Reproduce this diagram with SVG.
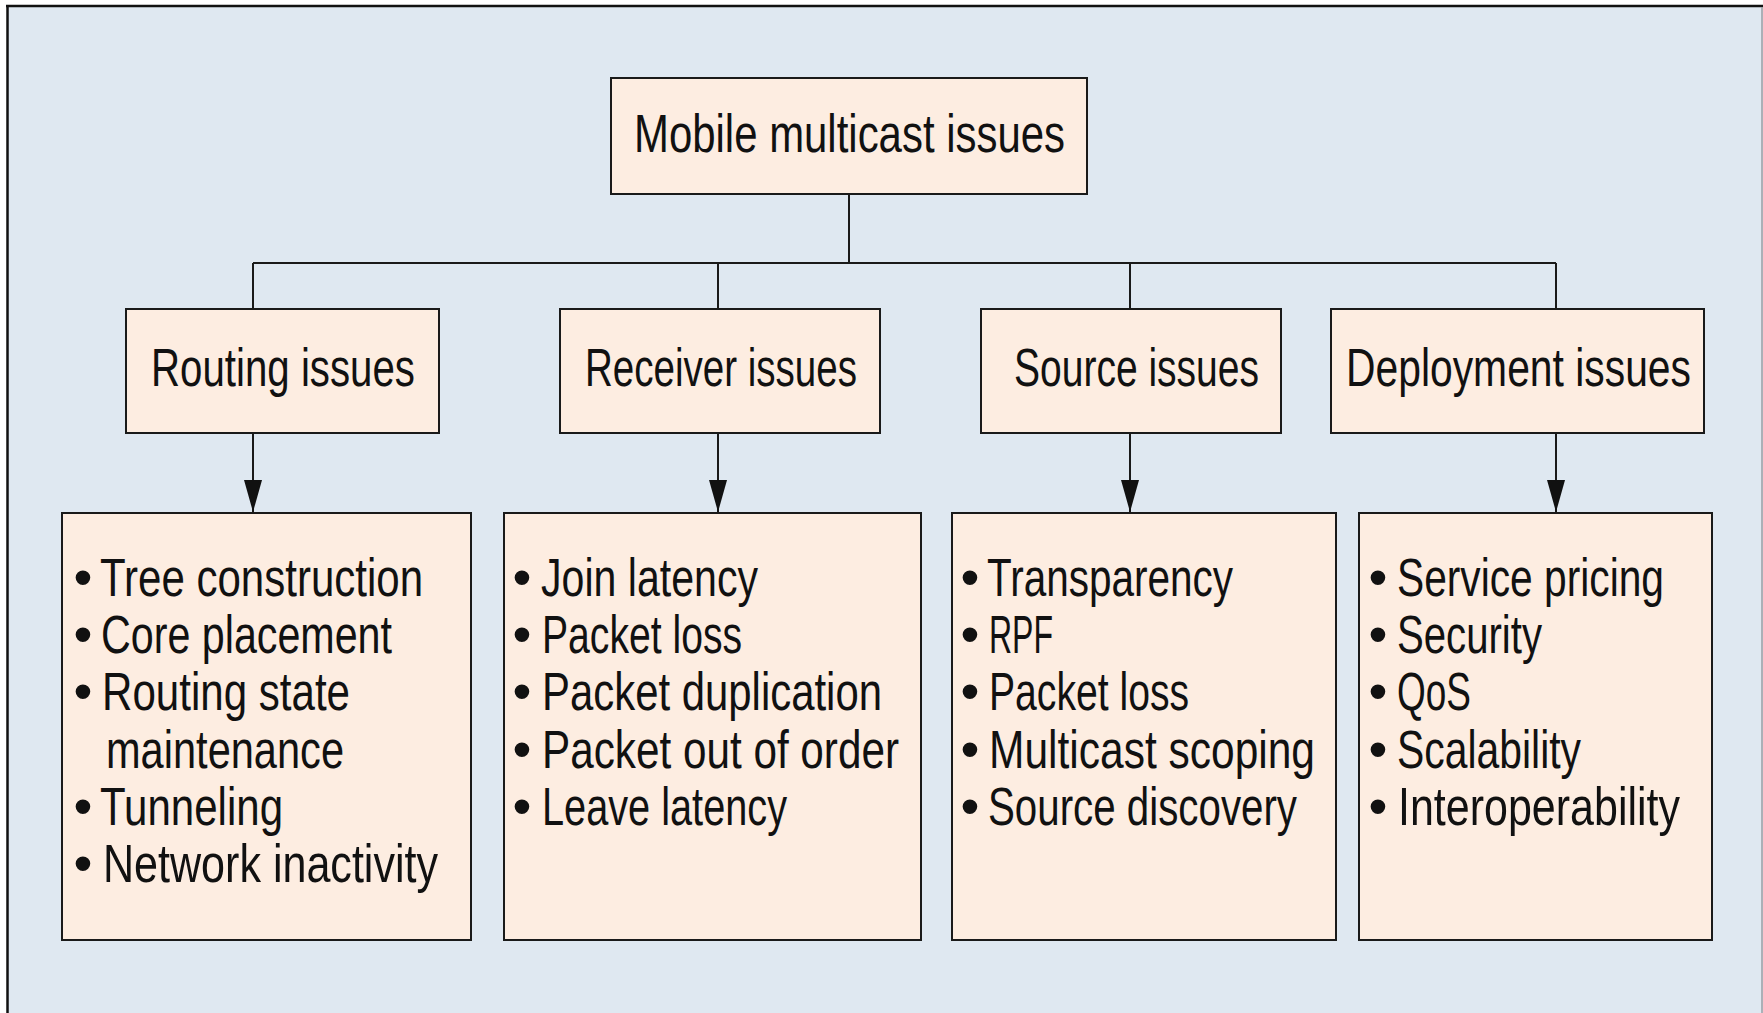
<svg xmlns="http://www.w3.org/2000/svg" width="1763" height="1013" viewBox="0 0 1763 1013">
<style>
.box{fill:#fdede1;stroke:#1a1a1a;stroke-width:2}
.t{font-family:"Liberation Sans",Arial,sans-serif;font-size:54px;fill:#111}
.b{font-family:"Liberation Sans",Arial,sans-serif;font-size:54px;fill:#111;text-anchor:middle}
.c{fill:none;stroke:#1a1a1a;stroke-width:2}
</style>
<defs>
<marker id="ah" markerUnits="userSpaceOnUse" markerWidth="32" markerHeight="18" refX="32" refY="9" orient="auto">
<path d="M0,0 L32,9 L0,18 z" fill="#111"/>
</marker>
</defs>
<rect x="0" y="0" width="1763" height="1013" fill="#ffffff"/>
<rect x="7" y="6" width="1756" height="1007" fill="#dfe8f1"/>
<line x1="6" y1="6" x2="1763" y2="6" stroke="#111" stroke-width="2.5"/>
<line x1="7.5" y1="5" x2="7.5" y2="1013" stroke="#111" stroke-width="2.5"/>
<line x1="1762" y1="7" x2="1762" y2="1013" stroke="#9a9ea3" stroke-width="1.5"/>

<g id="connectors">
<path class="c" d="M849,194 V263 M253,263 H1556 M253,263 V309 M718,263 V309 M1130,263 V309 M1556,263 V309"/>
<line class="c" x1="253" y1="433" x2="253" y2="512" marker-end="url(#ah)"/>
<line class="c" x1="718" y1="433" x2="718" y2="512" marker-end="url(#ah)"/>
<line class="c" x1="1130" y1="433" x2="1130" y2="512" marker-end="url(#ah)"/>
<line class="c" x1="1556" y1="433" x2="1556" y2="512" marker-end="url(#ah)"/>
</g>

<g id="root">
<rect class="box" x="611" y="78" width="476" height="116"/>
<text class="t" x="634" y="152" textLength="431" lengthAdjust="spacingAndGlyphs">Mobile multicast issues</text>
</g>

<g id="routing">
<rect class="box" x="126" y="309" width="313" height="124"/>
<text class="t" x="151" y="386" textLength="264" lengthAdjust="spacingAndGlyphs">Routing issues</text>
</g>
<g id="receiver">
<rect class="box" x="560" y="309" width="320" height="124"/>
<text class="t" x="585" y="386" textLength="272" lengthAdjust="spacingAndGlyphs">Receiver issues</text>
</g>
<g id="source">
<rect class="box" x="981" y="309" width="300" height="124"/>
<text class="t" x="1014" y="386" textLength="245" lengthAdjust="spacingAndGlyphs">Source issues</text>
</g>
<g id="deployment">
<rect class="box" x="1331" y="309" width="373" height="124"/>
<text class="t" x="1346" y="386" textLength="345" lengthAdjust="spacingAndGlyphs">Deployment issues</text>
</g>

<g id="routing-list">
<rect class="box" x="62" y="513" width="409" height="427"/>
<text class="b" x="83" y="596">•</text>
<text class="b" x="83" y="653">•</text>
<text class="b" x="83" y="710">•</text>
<text class="b" x="83" y="825">•</text>
<text class="b" x="83" y="882">•</text>
<text class="t" x="100" y="596" textLength="323" lengthAdjust="spacingAndGlyphs">Tree construction</text>
<text class="t" x="101" y="653" textLength="291" lengthAdjust="spacingAndGlyphs">Core placement</text>
<text class="t" x="102" y="710" textLength="248" lengthAdjust="spacingAndGlyphs">Routing state</text>
<text class="t" x="106" y="768" textLength="238" lengthAdjust="spacingAndGlyphs">maintenance</text>
<text class="t" x="100" y="825" textLength="183" lengthAdjust="spacingAndGlyphs">Tunneling</text>
<text class="t" x="103" y="882" textLength="335" lengthAdjust="spacingAndGlyphs">Network inactivity</text>
</g>

<g id="receiver-list">
<rect class="box" x="504" y="513" width="417" height="427"/>
<text class="b" x="522" y="596">•</text>
<text class="b" x="522" y="653">•</text>
<text class="b" x="522" y="710">•</text>
<text class="b" x="522" y="768">•</text>
<text class="b" x="522" y="825">•</text>
<text class="t" x="541" y="596" textLength="217" lengthAdjust="spacingAndGlyphs">Join latency</text>
<text class="t" x="542" y="653" textLength="200" lengthAdjust="spacingAndGlyphs">Packet loss</text>
<text class="t" x="542" y="710" textLength="340" lengthAdjust="spacingAndGlyphs">Packet duplication</text>
<text class="t" x="542" y="768" textLength="357" lengthAdjust="spacingAndGlyphs">Packet out of order</text>
<text class="t" x="542" y="825" textLength="245" lengthAdjust="spacingAndGlyphs">Leave latency</text>
</g>

<g id="source-list">
<rect class="box" x="952" y="513" width="384" height="427"/>
<text class="b" x="970" y="596">•</text>
<text class="b" x="970" y="653">•</text>
<text class="b" x="970" y="710">•</text>
<text class="b" x="970" y="768">•</text>
<text class="b" x="970" y="825">•</text>
<text class="t" x="987" y="596" textLength="246" lengthAdjust="spacingAndGlyphs">Transparency</text>
<text class="t" x="989" y="653" textLength="64" lengthAdjust="spacingAndGlyphs">RPF</text>
<text class="t" x="989" y="710" textLength="200" lengthAdjust="spacingAndGlyphs">Packet loss</text>
<text class="t" x="989" y="768" textLength="326" lengthAdjust="spacingAndGlyphs">Multicast scoping</text>
<text class="t" x="988" y="825" textLength="309" lengthAdjust="spacingAndGlyphs">Source discovery</text>
</g>

<g id="deployment-list">
<rect class="box" x="1359" y="513" width="353" height="427"/>
<text class="b" x="1378" y="596">•</text>
<text class="b" x="1378" y="653">•</text>
<text class="b" x="1378" y="710">•</text>
<text class="b" x="1378" y="768">•</text>
<text class="b" x="1378" y="825">•</text>
<text class="t" x="1397" y="596" textLength="267" lengthAdjust="spacingAndGlyphs">Service pricing</text>
<text class="t" x="1397" y="653" textLength="145" lengthAdjust="spacingAndGlyphs">Security</text>
<text class="t" x="1397" y="710" textLength="74" lengthAdjust="spacingAndGlyphs">QoS</text>
<text class="t" x="1397" y="768" textLength="184" lengthAdjust="spacingAndGlyphs">Scalability</text>
<text class="t" x="1398" y="825" textLength="282" lengthAdjust="spacingAndGlyphs">Interoperability</text>
</g>
</svg>
